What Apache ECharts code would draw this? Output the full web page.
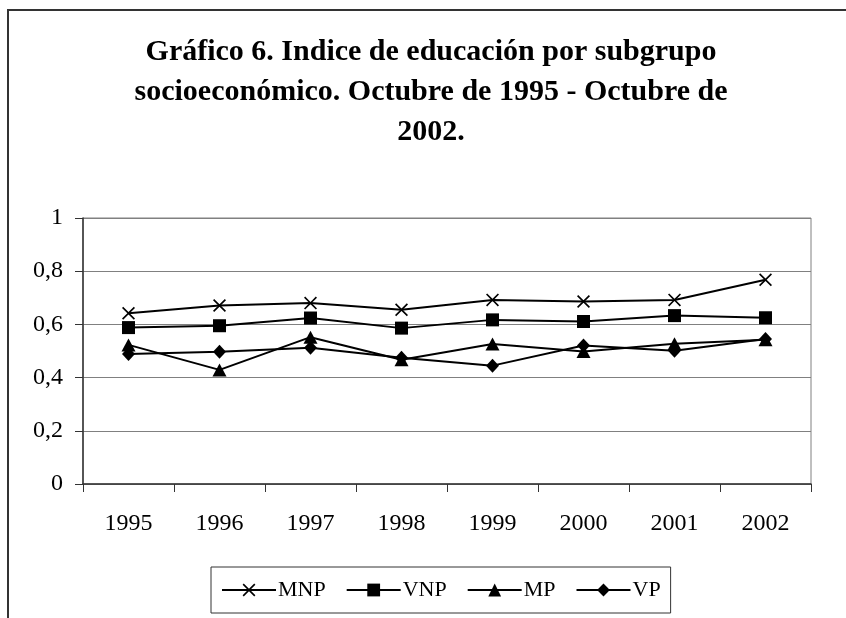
<!DOCTYPE html>
<html>
<head>
<meta charset="utf-8">
<script src="https://cdn.jsdelivr.net/npm/echarts@6/dist/echarts.min.js"></script>
<style>
  html, body { margin: 0; padding: 0; background: #fff; }
  #chart { width: 846px; height: 618px; }
</style>
</head>
<body>
<div id="chart"></div>
<script>
// años (eje X)
var years = ['1995', '1996', '1997', '1998', '1999', '2000', '2001', '2002']
// índice de educación por subgrupo
var mnp = [0.642, 0.671, 0.680, 0.655, 0.692, 0.686, 0.692, 0.768]
var vnp = [0.588, 0.595, 0.624, 0.586, 0.617, 0.611, 0.633, 0.625]
var mp = [0.523, 0.429, 0.552, 0.467, 0.526, 0.498, 0.527, 0.542]
var vp = [0.489, 0.497, 0.512, 0.475, 0.445, 0.521, 0.501, 0.545]
var yTicks = [0, 0.2, 0.4, 0.6, 0.8, 1]

var serif = "'Liberation Serif', 'Times New Roman', serif"
// cruz (X) como polígono relleno
var crossPath = 'path://M0,0.9L0.9,0L5,4.1L9.1,0L10,0.9L5.9,5L10,9.1L9.1,10L5,5.9L0.9,10L0,9.1L4.1,5Z'

function lineSerie(name, data, symbol, size) {
  return {
    name: name,
    type: 'line',
    data: data,
    symbol: symbol,
    symbolSize: size,
    lineStyle: { color: '#000', width: 2 },
    itemStyle: { color: '#000' },
    emphasis: { disabled: true },
    animation: false
  }
}

var chart = echarts.init(document.getElementById('chart'))
var option = {
  backgroundColor: '#fff',
  textStyle: { fontFamily: serif },
  title: {
    text: 'Gráfico 6. Indice de educación por subgrupo\nsocioeconómico. Octubre de 1995 - Octubre de\n2002.',
    left: 431,
    top: 32,
    padding: 0,
    textAlign: 'center',
    textStyle: {
      fontFamily: serif,
      fontWeight: 'bold',
      fontSize: 30,
      lineHeight: 40,
      color: '#000'
    }
  },
  legend: {
    left: 211,
    top: 567,
    padding: [12, 10],
    itemWidth: 54,
    itemHeight: 16,
    itemGap: 20,
    borderColor: '#333',
    borderWidth: 1,
    textStyle: { fontFamily: serif, fontSize: 22, color: '#000', padding: [0, 0, 0, -3] },
    data: ['MNP', 'VNP', 'MP', 'VP']
  },
  grid: {
    left: 83,
    top: 218,
    right: 35,
    bottom: 134,
    show: true,
    borderColor: '#808080',
    borderWidth: 1,
    outerBoundsMode: 'none'
  },
  xAxis: {
    type: 'category',
    data: years,
    boundaryGap: true,
    axisLine: { lineStyle: { color: '#333', width: 1.5 } },
    axisTick: { show: true, length: 8, lineStyle: { color: '#333' } },
    axisLabel: { fontFamily: serif, fontSize: 24, color: '#000', margin: 28 },
    splitLine: { show: false }
  },
  yAxis: {
    type: 'value',
    min: yTicks[0],
    max: yTicks[yTicks.length - 1],
    interval: 0.2,
    axisLine: { show: true, lineStyle: { color: '#333', width: 1.5 } },
    axisTick: { show: true, length: 8, lineStyle: { color: '#333' } },
    axisLabel: {
      fontFamily: serif,
      fontSize: 24,
      color: '#000',
      margin: 20,
      formatter: function (v) { return String(+v.toFixed(1)).replace('.', ',') }
    },
    splitLine: { lineStyle: { color: '#808080', width: 1 } }
  },
  graphic: [{
    type: 'rect',
    shape: { x: 8, y: 10, width: 1000, height: 1000 },
    style: { fill: 'none', stroke: '#333', lineWidth: 2 },
    silent: true
  }],
  series: [
    lineSerie('MNP', mnp, crossPath, 13),
    lineSerie('VNP', vnp, 'rect', 13),
    lineSerie('MP', mp, 'triangle', [14, 13]),
    lineSerie('VP', vp, 'diamond', [13, 14])
  ]
}
chart.setOption(option)
</script>
</body>
</html>
